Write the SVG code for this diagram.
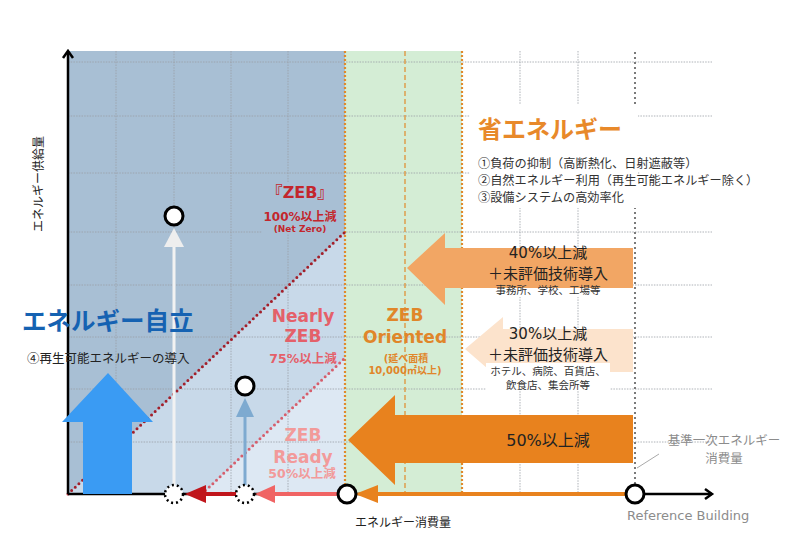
<svg xmlns="http://www.w3.org/2000/svg" width="800" height="548" viewBox="0 0 800 548">
<defs>
<style>
.jp{font-family:"Noto Sans CJK JP","Noto Sans",sans-serif}
.lt{font-family:"DejaVu Sans","Noto Sans CJK JP",sans-serif}
.b{font-weight:bold}
.grid{stroke:#9aa0a6;stroke-width:0.8;stroke-dasharray:1.5 1.2;fill:none}
.odot{stroke:#e08a2c;stroke-width:2.2;stroke-dasharray:2 2;fill:none}
.odash{stroke:#e08a2c;stroke-width:1.2;stroke-dasharray:5 3;fill:none}
.hole{fill:#fff;stroke:#000;stroke-width:3}
.dhole{fill:#fff;stroke:#000;stroke-width:2.5;stroke-dasharray:2 3}
.mid{text-anchor:middle}
</style>
</defs>
<rect width="800" height="548" fill="#fff"/>
<g id="background">
<rect x="68" y="51" width="277" height="443" fill="#a8bfd4"/>
<polygon points="68,494 345,232 345,494" fill="#c8d9e9"/>
<polygon points="202,494 345,358 345,494" fill="#dde8f3"/>
<rect x="345" y="51" width="117" height="443" fill="#d4edd5"/>
</g>
<g id="grid">
<path class="grid" d="M68 62H712M68 116H712M68 173H712M68 232H712M68 285H712M68 337H712M68 389H712M68 442H712"/>
<path class="grid" d="M116 51V494M174 51V494M231 51V494M288 51V494M520 51V494M578 51V494"/>
<rect x="640" y="150" width="120" height="58" fill="#fff"/>
<rect x="262" y="182" width="80" height="52" fill="#a8bfd4"/>
<path d="M635 52V494" stroke="#7a7a7a" stroke-width="2" stroke-dasharray="2 3" fill="none"/>
<rect x="470" y="104" width="168" height="104" fill="#fff"/>
<path class="odot" d="M345 51V494M462 51V494"/>
<path class="odash" d="M405 51V494"/>
</g>
<g id="diagonals">
<path d="M68 494L345 232" stroke="#a31f2a" stroke-width="3" stroke-linecap="round" stroke-dasharray="0 5" fill="none"/>
<path d="M202 494L345 358" stroke="#d65e6c" stroke-width="3" stroke-linecap="round" stroke-dasharray="0 5" fill="none"/>
</g>
<g id="axes">
<path d="M68 494V52M68 494H712" stroke="#000" stroke-width="2.5" fill="none"/>
<path d="M63 58L68 51L73 58M705 489L712 494L705 499" stroke="#000" stroke-width="2.5" fill="none"/>
</g>
<g id="connectors">
<path d="M174 486V246" stroke="#f2f2f2" stroke-width="3"/>
<polygon points="174,228 164,247 184,247" fill="#eeeeee"/>
<path d="M245 486V415" stroke="#7eaad0" stroke-width="3"/>
<polygon points="245,398 236,417 254,417" fill="#7eaad0"/>
<polygon points="83,494 83,422 62,422 108,373 153,422 132,422 132,494" fill="#3a9bf3"/>
<path d="M237 494H203" stroke="#c0161c" stroke-width="4"/>
<polygon points="185,494 206,485 206,503" fill="#c0161c"/>
<path d="M338 494H270" stroke="#f06464" stroke-width="4"/>
<polygon points="255,494 275,485 275,503" fill="#f06464"/>
<path d="M627 494H375" stroke="#e8821e" stroke-width="4"/>
<polygon points="355,494 378,485 378,503" fill="#e8821e"/>
<path d="M637 468L659 454" stroke="#aaa" stroke-width="1"/>
</g>
<g id="arrow40">
<polygon points="407,268 445,233 445,248 633,248 633,288 445,288 445,305" fill="#f2a664"/>
<rect x="490" y="288" width="118" height="9" fill="#fff"/>
<text class="lt mid" x="548" y="258" font-size="15" fill="#222">40%以上減</text>
<text class="jp mid" x="548" y="279" font-size="15" fill="#222">＋未評価技術導入</text>
<text class="jp mid" x="548" y="294" font-size="10.5" fill="#333">事務所、学校、工場等</text>
</g>
<g id="arrow30">
<polygon points="465,349 503,317 503,329 633,329 633,372 503,372 503,382" fill="#fce3cc"/>
<rect x="486" y="363" width="124" height="28" fill="#fff"/>
<text class="lt mid" x="548" y="339" font-size="15" fill="#222">30%以上減</text>
<text class="jp mid" x="548" y="360" font-size="15" fill="#222">＋未評価技術導入</text>
<text class="jp mid" x="548" y="375" font-size="10.5" fill="#333">ホテル、病院、百貨店、</text>
<text class="jp mid" x="548" y="389" font-size="10.5" fill="#333">飲食店、集会所等</text>
</g>
<g id="arrow50">
<polygon points="348,440 395,395 395,415 633,415 633,463 395,463 395,485" fill="#e8821e"/>
<text class="lt mid" x="548" y="446" font-size="16" fill="#222">50%以上減</text>
</g>
<g id="points">
<circle class="hole" cx="174" cy="216" r="9"/>
<circle class="hole" cx="245" cy="386" r="9"/>
<circle class="dhole" cx="174" cy="494" r="9"/>
<circle class="dhole" cx="245" cy="494" r="9"/>
<circle class="hole" cx="347" cy="494" r="9"/>
<circle class="hole" cx="635" cy="494" r="9"/>
</g>
<g id="zeb">
<text class="jp b mid" x="300" y="198" font-size="16" fill="#c3262c">『<tspan font-family="DejaVu Sans">ZEB</tspan>』</text>
<text class="lt b mid" x="300" y="221" font-size="12" fill="#c3262c">100%以上減</text>
<text class="lt b mid" x="300" y="232" font-size="9" fill="#c3262c">(Net Zero)</text>
</g>
<g id="nearly-zeb">
<text class="lt b mid" x="303" y="322" font-size="17" fill="#e4606a">Nearly</text>
<text class="lt b mid" x="303" y="342" font-size="17" fill="#e4606a">ZEB</text>
<text class="lt b mid" x="303" y="363" font-size="12.5" fill="#e4606a">75%以上減</text>
</g>
<g id="zeb-ready">
<text class="lt b mid" x="303" y="441" font-size="17" fill="#f29a9a">ZEB</text>
<text class="lt b mid" x="303" y="463" font-size="17" fill="#f29a9a">Ready</text>
<text class="lt b mid" x="302" y="478" font-size="12.5" fill="#f29a9a">50%以上減</text>
</g>
<g id="zeb-oriented">
<text class="lt b mid" x="405" y="321" font-size="17" fill="#e0862a">ZEB</text>
<text class="lt b mid" x="405" y="343" font-size="17" fill="#e0862a">Oriented</text>
<text class="lt b mid" x="406" y="362" font-size="10" fill="#e0862a">(延べ面積</text>
<text class="lt b mid" x="405" y="374" font-size="10" fill="#e0862a">10,000㎡以上)</text>
</g>
<g id="energy-saving">
<text class="jp b" x="478" y="138" font-size="24" fill="#e8892a">省エネルギー</text>
<text class="jp" x="478" y="168" font-size="12.2" fill="#333">①負荷の抑制（高断熱化、日射遮蔽等）</text>
<text class="jp" x="478" y="185" font-size="12.2" fill="#333">②自然エネルギー利用（再生可能エネルギー除く）</text>
<text class="jp" x="478" y="202" font-size="12.2" fill="#333">③設備システムの高効率化</text>
</g>
<g id="self-sufficiency">
<text class="jp b" x="22" y="330" font-size="24.5" fill="#1562b2">エネルギー自立</text>
<text class="jp" x="27" y="363" font-size="12.5" fill="#222">④再生可能エネルギーの導入</text>
</g>
<g id="labels">
<text class="jp mid" transform="translate(43,184) rotate(-90)" font-size="12" fill="#222">エネルギー供給量</text>
<text class="jp" x="355" y="527" font-size="12" fill="#222">エネルギー消費量</text>
<text class="jp mid" x="724" y="445" font-size="12.5" fill="#8c8c8c">基準一次エネルギー</text>
<text class="jp mid" x="724" y="463" font-size="12.5" fill="#8c8c8c">消費量</text>
<text class="lt" x="627" y="520" font-size="13" fill="#8c8c8c">Reference Building</text>
</g>
</svg>
